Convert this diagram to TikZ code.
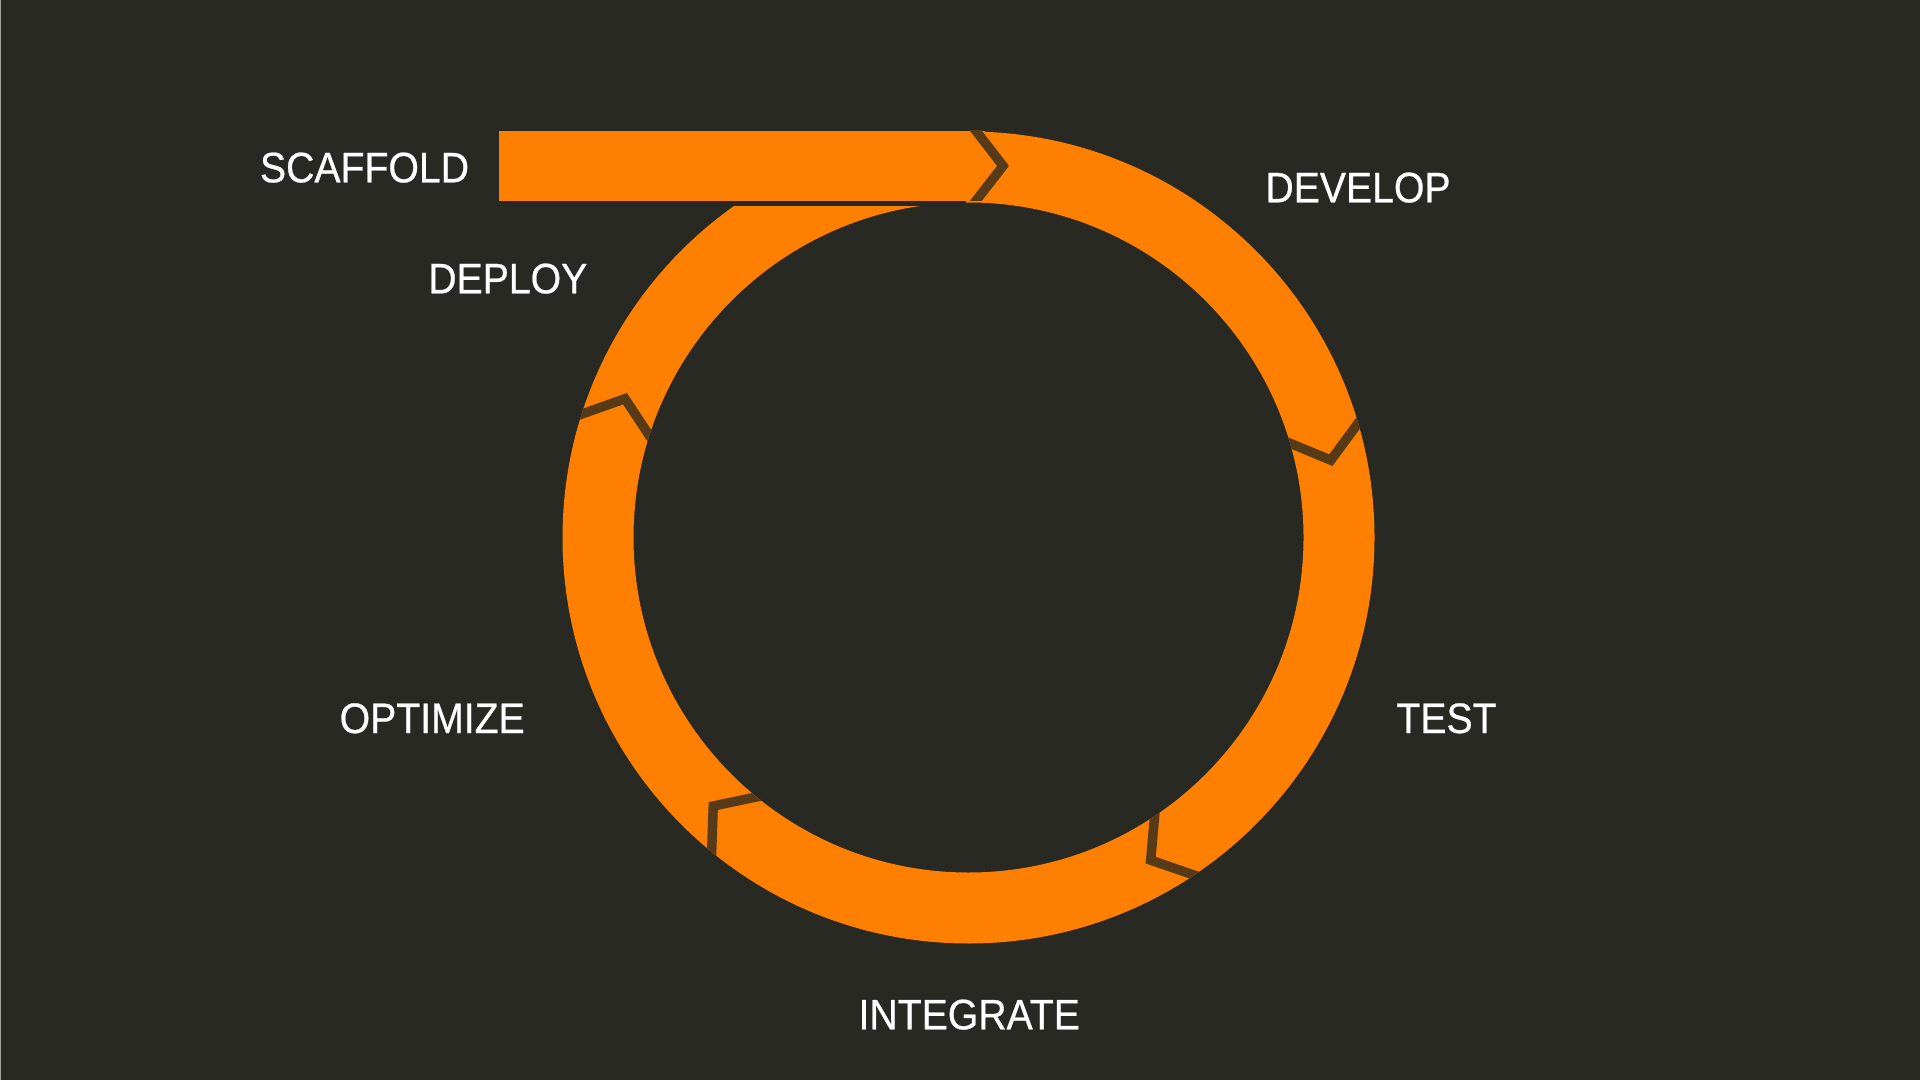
\documentclass[tikz,border=0pt]{standalone}
\usepackage{fontspec}
\setmainfont{Liberation Sans}[FakeStretch=0.92, FakeBold=0.6]
\usetikzlibrary{calc}
\definecolor{bg}{RGB}{40,41,35}
\definecolor{orng}{RGB}{255,127,0}
\definecolor{gapbrown}{RGB}{87,59,24}
\definecolor{edgegray}{RGB}{165,165,158}
\begin{document}
\begin{tikzpicture}[x=0.5pt,y=-0.5pt,
  lab/.style={text=white, font=\fontsize{21.3}{24}\selectfont, inner sep=0pt, anchor=base},
  gapline/.style={draw=gapbrown, line width=4.75pt, line join=miter},
  ringfill/.style={fill=orng, even odd rule}]
\fill[bg] (0,0) rectangle (1920,1080);
\useasboundingbox (0,0) rectangle (1920,1080);
\draw[edgegray, line width=0.5pt] (0.5,0) -- (0.5,1080);
\coordinate (C) at (968.5,537.5);
% ring
\fill[ringfill] (C) circle[radius=406] (C) circle[radius=335];
% gap below the bar (top end of DEPLOY segment)
\fill[bg] (690,200.7) rectangle (966,206);
% scaffold bar
\fill[orng] (499,131) rectangle (985,200.7);
% chevron at the end of the bar
\begin{scope}
  \clip (499,131) rectangle (1100,200.7);
  \draw[gapline] (967.5,120) -- (1003,165.85) -- (967.5,211.7);
\end{scope}
% chevrons in the ring
\begin{scope}[even odd rule]
  \clip (C) circle[radius=406] (C) circle[radius=335];
  \foreach \a/\n in {-16.35/a, 56.25/b, 129.25/c, 197.7/d}{
    \coordinate (o\n) at ($(C)+(\a:406)$);
    \coordinate (t\n) at ($(C)+(\a+4.3:370.5)$);
    \coordinate (i\n) at ($(C)+(\a:335)$);
    \draw[gapline] ($(t\n)!1.6!(o\n)$) -- (t\n) -- ($(t\n)!1.6!(i\n)$);
  }
\end{scope}
% labels
\node[lab] (scaffold) at (364.5,182.3) {SCAFFOLD};
\node[lab] (develop) at (1358,202.3) {DEVELOP};
\node[lab] (deploy) at (507.8,293.3) {DEPLOY};
\node[lab] (test) at (1446.5,733) {TEST};
\node[lab] (optimize) at (432.2,733) {OPTIMIZE};
\node[lab] (integrate) at (969.2,1029.3) {INTEGRATE};
\end{tikzpicture}
\end{document}
